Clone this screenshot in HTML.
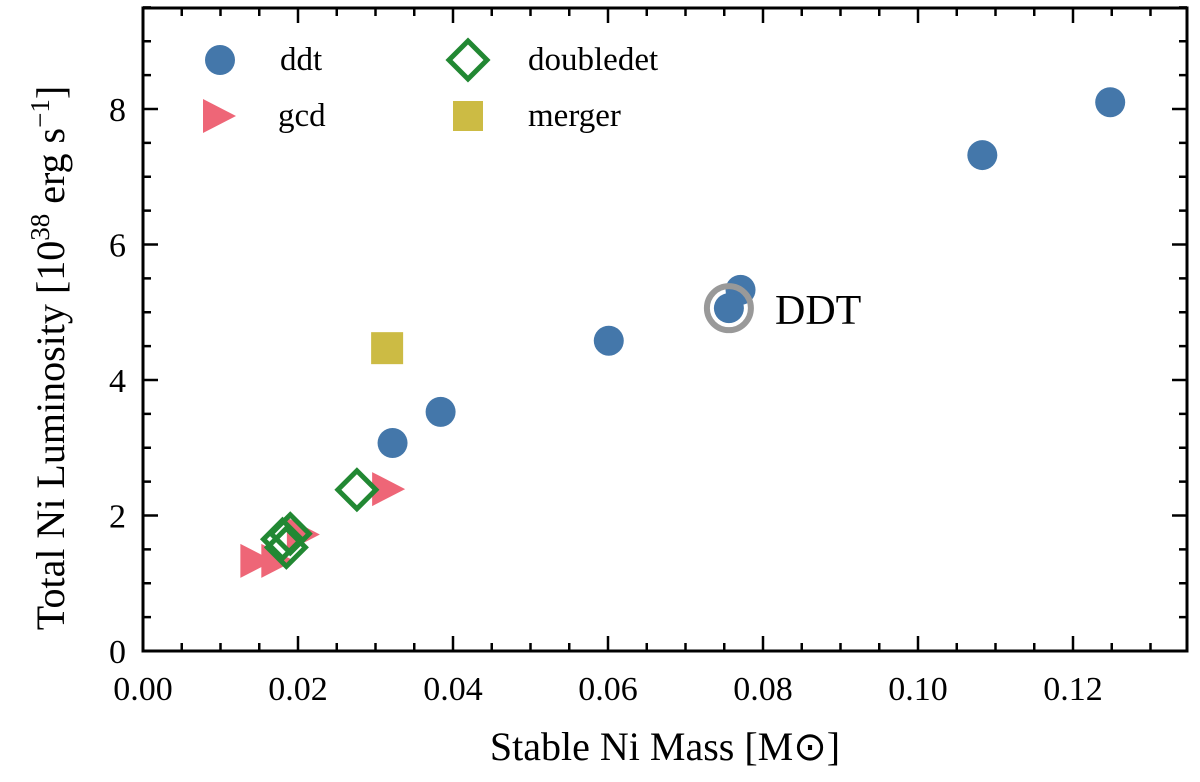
<!DOCTYPE html>
<html><head><meta charset="utf-8"><style>body{margin:0;background:#fff}svg text{font-family:"Liberation Serif",serif;fill:#000}</style></head>
<body>
<svg id="c" width="1200" height="777"></svg>
<script>
const ddtX=[0.0322,0.0384,0.0601,0.0771,0.0756,0.1083,0.1248];
const ddtY=[3.07,3.53,4.58,5.33,5.06,7.32,8.10];
const gcdX=[0.0145,0.0172,0.0205,0.0315];
const gcdY=[1.33,1.33,1.72,2.39];
const dblX=[0.0276,0.0180,0.0190,0.0185];
const dblY=[2.38,1.65,1.73,1.53];
const mergerX=[0.0315];
const mergerY=[4.47];
const ddtMark=[0.0756,5.06];
const xTicks=[0,0.02,0.04,0.06,0.08,0.10,0.12];
const xTickLabels=["0.00","0.02","0.04","0.06","0.08","0.10","0.12"];
const yTicks=[0,2,4,6,8];
const yTickLabels=["0","2","4","6","8"];
const L=143,R=1187,T=8,B=651;
const X=v=>L+v*7750, Y=v=>B-v*67.75;
const s=document.getElementById('c');const NS='http://www.w3.org/2000/svg';
function el(t,a,txt){const e=document.createElementNS(NS,t);for(const k in a)e.setAttribute(k,a[k]);if(txt!=null)e.textContent=txt;s.appendChild(e);return e;}
function tk(x1,y1,x2,y2){el('line',{x1,y1,x2,y2,stroke:'#000','stroke-width':2.5});}
for(let v=0;v<=0.135;v+=0.005){const x=X(v);const maj=Math.abs(v/0.02-Math.round(v/0.02))<1e-6;const l=maj?15:8;tk(x,B,x,B-l);tk(x,T,x,T+l);}
for(let v=0;v<=9.5;v+=0.5){const y=Y(v);const maj=Math.abs(v/2-Math.round(v/2))<1e-6;const l=maj?15:8;tk(L,y,L+l,y);tk(R,y,R-l,y);}
xTicks.forEach((v,i)=>{const t=el('text',{x:X(v),y:700,'font-size':34,'text-anchor':'middle'},xTickLabels[i]);});
yTicks.forEach((v,i)=>{const t=el('text',{x:126,y:Y(v)+12,'font-size':34,'text-anchor':'end'},yTickLabels[i]);});
const fr=el('rect',{x:L,y:T,width:R-L,height:B-T,fill:'none',stroke:'#000','stroke-width':3});

function tri(x,y,c){return el('polygon',{points:`${x-15},${y-17} ${x+18},${y} ${x-15},${y+17}`,fill:c});}
gcdX.forEach((v,i)=>{const p=tri(X(v),Y(gcdY[i]),'#ee6677');});
const sq=el('rect',{x:X(mergerX[0])-16,y:Y(mergerY[0])-16,width:32,height:32,fill:'#ccbb44'});

ddtX.forEach((v,i)=>{const c=el('circle',{cx:X(v),cy:Y(ddtY[i]),r:15,fill:'#4477aa'});});
function dia(x,y){return el('polygon',{points:`${x},${y-19} ${x+19},${y} ${x},${y+19} ${x-19},${y}`,fill:'none',stroke:'#228833','stroke-width':5});}
dblX.forEach((v,i)=>{const p=dia(X(v),Y(dblY[i]));});
const ring=el('circle',{cx:X(ddtMark[0]),cy:Y(ddtMark[1]),r:22,fill:'none',stroke:'#999','stroke-width':6});

const dl=el('text',{x:775,y:324,'font-size':42},'DDT');
const lg=[['c',220,60,'#4477aa','ddt'],['t',218,116,'#ee6677','gcd'],['d',468,60,'#228833','doubledet'],['s',468,116,'#ccbb44','merger']];
lg.forEach(([k,x,y,c,lab])=>{let m;
if(k==='c')m=el('circle',{cx:x,cy:y,r:15,fill:c});
else if(k==='t')m=tri(x,y,c);
else if(k==='d')m=dia(x,y);
else m=el('rect',{x:x-15,y:y-15,width:30,height:30,fill:c});

const t=el('text',{x:x+60,y:y+10,'font-size':33},lab);});
const xt=el('text',{x:665,y:760,'font-size':40,'text-anchor':'middle'},'Stable Ni Mass [M\u2299]');

const yt=el('text',{x:0,y:0,'font-size':40,'text-anchor':'middle',transform:'translate(64,358) rotate(-90)'});
yt.innerHTML='Total Ni Luminosity [10<tspan dy="-15" font-size="27">38</tspan><tspan dy="15"> erg s</tspan><tspan dy="-15" font-size="27">\u22121</tspan><tspan dy="15">]</tspan>';

</script>
</body></html>
